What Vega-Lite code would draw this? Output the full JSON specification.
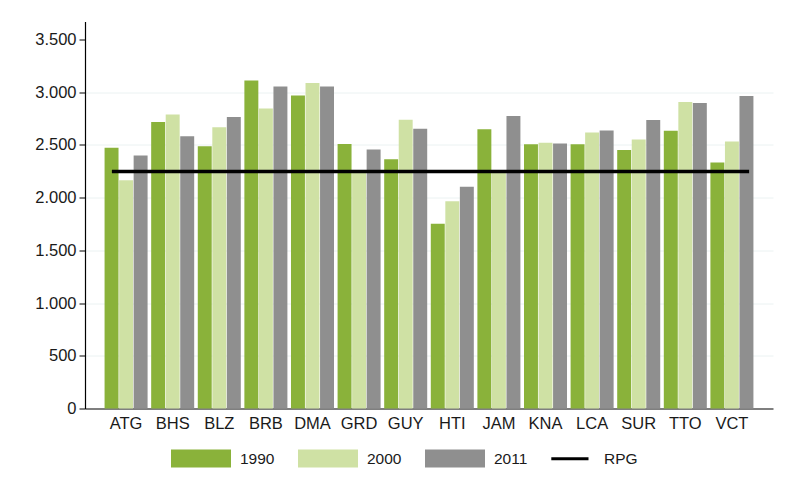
{
  "$schema": "https://vega.github.io/schema/vega-lite/v6.json",
  "autosize": "none",
  "width": 688,
  "height": 387,
  "padding": {"left": 85, "top": 21.5, "right": 18, "bottom": 84.5},
  "background": "white",
  "config": {
    "view": {"stroke": null},
    "font": "Liberation Sans",
    "axis": {"labelFont": "Liberation Sans", "labelFontSize": 16.5, "labelColor": "#1a1a1a", "domainColor": "#000000", "tickColor": "#000000"}
  },
  "layer": [
    {
      "data": {
        "values": [
          {"c": "ATG", "y": "1990", "v": 2473}, {"c": "ATG", "y": "2000", "v": 2164}, {"c": "ATG", "y": "2011", "v": 2400},
          {"c": "BHS", "y": "1990", "v": 2716}, {"c": "BHS", "y": "2000", "v": 2789}, {"c": "BHS", "y": "2011", "v": 2581},
          {"c": "BLZ", "y": "1990", "v": 2486}, {"c": "BLZ", "y": "2000", "v": 2666}, {"c": "BLZ", "y": "2011", "v": 2764},
          {"c": "BRB", "y": "1990", "v": 3111}, {"c": "BRB", "y": "2000", "v": 2846}, {"c": "BRB", "y": "2011", "v": 3054},
          {"c": "DMA", "y": "1990", "v": 2969}, {"c": "DMA", "y": "2000", "v": 3086}, {"c": "DMA", "y": "2011", "v": 3054},
          {"c": "GRD", "y": "1990", "v": 2508}, {"c": "GRD", "y": "2000", "v": 2235}, {"c": "GRD", "y": "2011", "v": 2457},
          {"c": "GUY", "y": "1990", "v": 2363}, {"c": "GUY", "y": "2000", "v": 2739}, {"c": "GUY", "y": "2011", "v": 2654},
          {"c": "HTI", "y": "1990", "v": 1753}, {"c": "HTI", "y": "2000", "v": 1965}, {"c": "HTI", "y": "2011", "v": 2104},
          {"c": "JAM", "y": "1990", "v": 2647}, {"c": "JAM", "y": "2000", "v": 2235}, {"c": "JAM", "y": "2011", "v": 2773},
          {"c": "KNA", "y": "1990", "v": 2505}, {"c": "KNA", "y": "2000", "v": 2521}, {"c": "KNA", "y": "2011", "v": 2514},
          {"c": "LCA", "y": "1990", "v": 2505}, {"c": "LCA", "y": "2000", "v": 2618}, {"c": "LCA", "y": "2011", "v": 2637},
          {"c": "SUR", "y": "1990", "v": 2451}, {"c": "SUR", "y": "2000", "v": 2552}, {"c": "SUR", "y": "2011", "v": 2735},
          {"c": "TTO", "y": "1990", "v": 2634}, {"c": "TTO", "y": "2000", "v": 2906}, {"c": "TTO", "y": "2011", "v": 2896},
          {"c": "VCT", "y": "1990", "v": 2334}, {"c": "VCT", "y": "2000", "v": 2533}, {"c": "VCT", "y": "2011", "v": 2963}
        ]
      },
      "mark": {"type": "bar"},
      "encoding": {
        "x": {
          "field": "c", "type": "nominal", "title": null,
          "scale": {"paddingInner": 0.077, "paddingOuter": 0.42},
          "axis": {"ticks": false, "labelAngle": 0, "labelPadding": 7, "domainWidth": 1.2}
        },
        "xOffset": {"field": "y", "type": "nominal", "scale": {"paddingInner": 0.04}},
        "y": {
          "field": "v", "type": "quantitative", "title": null,
          "scale": {"domain": [0, 3670], "nice": false},
          "axis": {
            "values": [0, 500, 1000, 1500, 2000, 2500, 3000, 3500],
            "labelExpr": "replace(format(datum.value, ','), ',', '.')",
            "tickSize": 6,
            "labelPadding": 3,
            "domainWidth": 1.2,
            "grid": true,
            "gridColor": {"condition": {"test": "datum.value == 0 || datum.value == 3500", "value": "transparent"}, "value": "#ebf2f2"}
          }
        },
        "color": {
          "field": "y", "type": "nominal",
          "scale": {"domain": ["1990", "2000", "2011", "RPG"], "range": ["#8ab23a", "#cfe1a4", "#8f8f8f", "#000000"]},
          "legend": {
            "title": null,
            "orient": "none",
            "direction": "horizontal",
            "legendX": 86,
            "legendY": 407,
            "padding": 0,
            "symbolSize": 3600,
            "symbolType": "M-1,-0.3L1,-0.3L1,0.3L-1,0.3Z",
            "symbolStrokeWidth": 0,
            "labelFont": "Liberation Sans",
            "labelFontSize": 15.5,
            "labelColor": "#1a1a1a",
            "labelOffset": 9,
            "columnPadding": 23,
            "encode": {
              "symbols": {
                "update": {
                  "shape": {"signal": "datum.value === 'RPG' ? 'M-1.19,-0.05L0.05,-0.05L0.05,0.05L-1.19,0.05Z' : 'M-1,-0.3L1,-0.3L1,0.3L-1,0.3Z'"},
                  "fill": {"signal": "scale('color', datum.value)"},
                  "stroke": {"value": "transparent"},
                  "opacity": {"value": 1},
                  "fillOpacity": {"value": 1}
                }
              },
              "labels": {
                "update": {
                  "dx": {"signal": "datum.value === 'RPG' ? -22 : 0"}
                }
              }
            }
          }
        }
      }
    },
    {
      "data": {"values": [{"c": "ATG", "c2": "VCT", "v": 2248}]},
      "mark": {"type": "rule", "strokeWidth": 3.5},
      "encoding": {
        "x": {"field": "c", "type": "nominal", "bandPosition": 0.17},
        "x2": {"field": "c2", "bandPosition": 0.9},
        "y": {"field": "v", "type": "quantitative"},
        "color": {"datum": "RPG", "type": "nominal"}
      }
    }
  ]
}
